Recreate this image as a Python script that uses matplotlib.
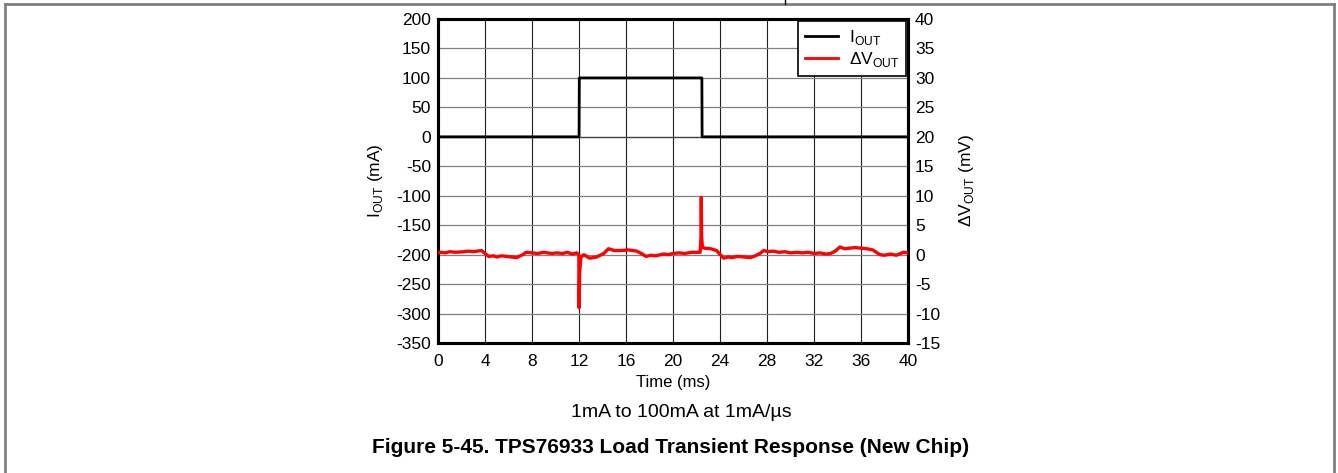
import numpy as np
import matplotlib.pyplot as plt
from matplotlib.lines import Line2D

plt.rcParams['font.family'] = ['Liberation Sans', 'DejaVu Sans']
plt.rcParams['axes.unicode_minus'] = False

# Dữ liệu
t_iout = [0, 12.0, 12.02, 22.45, 22.47, 40]
iout = [0, 0, 100, 100, 0, 0]

t_dv = [0.0, 0.2, 0.6, 1.0, 1.5, 2.2, 2.6, 3.0, 3.7, 4.0, 4.3, 4.7, 5.0, 5.4, 5.8,
        6.2, 6.7, 7.2, 7.5, 8.0, 8.5, 9.0, 9.3, 9.7, 10.1, 10.6, 11.0, 11.4, 11.8,
        11.98, 12.0, 12.05, 12.15, 12.4, 12.9, 13.5, 14.1, 14.5, 15.0, 15.5, 16.2,
        16.9, 17.3, 17.7, 18.1, 18.5, 19.2, 19.6, 20.0, 20.5, 21.0, 21.6, 22.3,
        22.38, 22.4, 22.43, 22.5, 22.7, 23.2, 23.7, 24.3, 24.7, 25.0, 25.5, 26.0,
        26.6, 27.0, 27.4, 27.7, 28.1, 28.5, 29.0, 29.5, 30.0, 30.5, 31.0, 31.5,
        32.0, 32.5, 33.0, 33.4, 33.8, 34.2, 34.6, 35.0, 35.5, 36.0, 36.5, 37.0,
        37.6, 38.0, 38.5, 39.0, 39.6, 40.0]
dv = [0.3, 0.4, 0.3, 0.5, 0.4, 0.5, 0.6, 0.5, 0.7, 0.2, -0.3, -0.2, -0.4, -0.2, -0.3,
      -0.4, -0.5, 0.0, 0.4, 0.3, 0.2, 0.4, 0.3, 0.2, 0.3, 0.2, 0.4, 0.1, 0.3,
      0.0, -9.0, -3.0, -0.5, 0.0, -0.6, -0.4, 0.2, 1.0, 0.7, 0.7, 0.8,
      0.6, 0.2, -0.3, -0.1, -0.2, 0.1, 0.0, 0.2, 0.3, 0.2, 0.4, 0.4,
      3.0, 9.7, 3.0, 1.2, 1.1, 1.0, 0.7, -0.6, -0.4, -0.5, -0.3, -0.4,
      -0.5, -0.2, 0.2, 0.7, 0.5, 0.6, 0.4, 0.5, 0.3, 0.4, 0.3, 0.4,
      0.2, 0.3, 0.1, 0.2, 0.6, 1.3, 1.0, 1.1, 1.2, 1.1, 1.0, 0.8,
      0.0, -0.1, 0.1, -0.1, 0.4, 0.3]

x_ticks = list(range(0, 41, 4))
left_ticks = list(range(-350, 201, 50))
right_ticks = list(range(-15, 41, 5))

fig = plt.figure(figsize=(13.38, 4.73), dpi=100)
ax = fig.add_axes([0.3274, 0.2748, 0.3513, 0.685])
ax2 = ax.twinx()

ax.set_xlim(0, 40)
ax.set_ylim(-350, 200)
ax2.set_ylim(-15, 40)
ax.set_xticks(x_ticks)
ax.set_yticks(left_ticks)
ax2.set_yticks(right_ticks)

# Lưới: dọc đen, ngang xám
for x in x_ticks[1:-1]:
    ax.axvline(x, color='#202020', lw=0.8, zorder=0)
for y in left_ticks[1:-1]:
    ax.axhline(y, color='#808080', lw=0.9, zorder=0)
ax.axhline(0, color='#404040', lw=0.9, zorder=0)

ax.plot(t_iout, iout, color='black', lw=2.0, zorder=3)
ax2.plot(t_dv, dv, color='red', lw=2.4, zorder=3)

for a in (ax, ax2):
    for s in a.spines.values():
        s.set_linewidth(2.2)
    a.tick_params(length=0, pad=5, labelsize=12.5)
ax.tick_params(axis='x', pad=8)

ax.set_xlabel('Time (ms)', fontsize=12, labelpad=4)
ax.set_ylabel('I$_\\mathregular{OUT}$ (mA)', fontsize=12.5, labelpad=8)
ax2.set_ylabel('ΔV$_\\mathregular{OUT}$ (mV)', fontsize=12.5, labelpad=12)

handles = [Line2D([], [], color='black', lw=2.0),
           Line2D([], [], color='red', lw=2.0)]
leg = ax.legend(handles, ['I$_\\mathregular{OUT}$', 'ΔV$_\\mathregular{OUT}$'],
                loc='upper right', fontsize=12.5, fancybox=False, framealpha=1,
                edgecolor='black', borderaxespad=0.1, handlelength=1.9,
                labelspacing=0.2, borderpad=0.4, handletextpad=0.6)
leg.get_frame().set_linewidth(1.2)
leg.set_zorder(10)

fig.text(0.5093, 0.127, '1mA to 100mA at 1mA/µs', ha='center', va='center', fontsize=14)
fig.text(0.5008, 0.053, 'Figure 5-45. TPS76933 Load Transient Response (New Chip)',
         ha='center', va='center', fontsize=15, fontweight='bold')

# Khung viền trang
fig.add_artist(Line2D([0.0037, 0.0037], [0, 0.992], color='#808080', lw=2.0))
fig.add_artist(Line2D([0.9970, 0.9970], [0, 0.992], color='#808080', lw=2.0))
fig.add_artist(Line2D([0.0037, 0.9970], [0.992, 0.992], color='#808080', lw=2.0))
fig.add_artist(Line2D([0.5867, 0.5867], [0.992, 1.0], color='black', lw=1))

fig.savefig('out.png', dpi=100)
